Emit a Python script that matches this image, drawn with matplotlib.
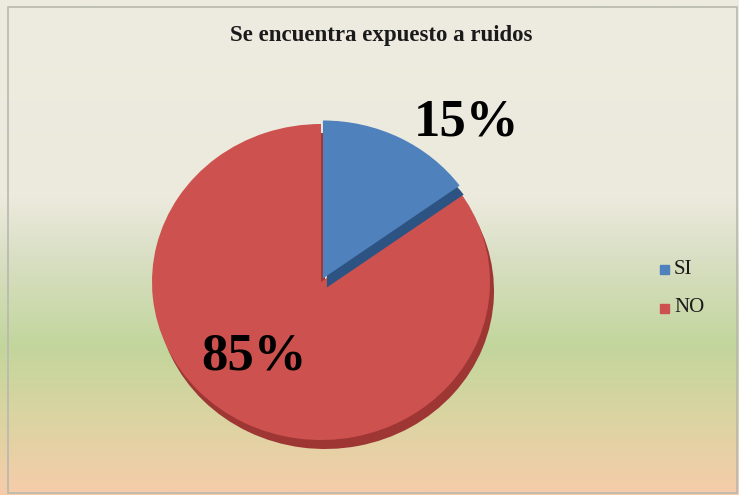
import matplotlib.pyplot as plt
import numpy as np
from matplotlib.colors import LinearSegmentedColormap
from matplotlib.patches import Rectangle

categories = ["SI", "NO"]
values = [15, 85]
labels = ["15%", "85%"]

W, H = 739, 495
face = ["#4F81BD", "#CD524F"]
side = ["#2D5382", "#9E3634"]
SERIF = "Liberation Serif"

fig = plt.figure(figsize=(W / 100, H / 100), dpi=100)

# background gradient
bg = fig.add_axes([0, 0, 1, 1])
bg.axis("off")
grad = LinearSegmentedColormap.from_list(
    "bg",
    [(0.0, "#EEEBE0"), (0.40, "#ECEADD"), (0.52, "#D9DFC4"),
     (0.70, "#C2D69C"), (0.85, "#DCD4A2"), (1.0, "#F6CCAA")],
)
bg.imshow(np.linspace(0, 1, 256)[:, None], aspect="auto", cmap=grad,
          extent=[0, W, H, 0])
bg.set_xlim(0, W)
bg.set_ylim(H, 0)
bg.add_patch(Rectangle((8, 7), W - 10, H - 9, fill=False, ec="#B8B8B0", lw=1.2))

# pie drawn as an ellipse: centre (321, 282), rx 169, ry 158 px
cx, cy, rx, ry = 321, 282, 169, 158
pax = fig.add_axes([(cx - rx) / W, 1 - (cy + ry) / H, 2 * rx / W, 2 * ry / H])
dx, dy = 4 / rx, -9 / ry
explode = [0.025, 0]
shadow, _ = pax.pie(values, colors=side, startangle=90, counterclock=False,
                    explode=explode, center=(dx, dy), radius=1,
                    wedgeprops=dict(lw=0))
top, _ = pax.pie(values, colors=face, startangle=90, counterclock=False,
                 explode=explode, radius=1, wedgeprops=dict(lw=0))
# red first, then blue on top so its side wall shows over the red face
for z, w in zip([1, 2, 3, 4], [shadow[1], top[1], shadow[0], top[0]]):
    w.set_zorder(z)
    w.set_clip_on(False)
pax.set_aspect("auto")
pax.set_xlim(-1, 1)
pax.set_ylim(-1, 1)
pax.axis("off")

# overlay for texts
ov = fig.add_axes([0, 0, 1, 1])
ov.axis("off")
ov.set_xlim(0, W)
ov.set_ylim(H, 0)

ov.text(381, 36, "Se encuentra expuesto a ruidos", ha="center", va="center",
        fontsize=16.5, fontweight="bold", family=SERIF, color="#1A1A1A")

ov.text(467, 122, labels[0], ha="center", va="center", fontsize=38,
        fontweight="bold", family=SERIF, color="#000000")
ov.text(254, 357, labels[1], ha="center", va="center", fontsize=38,
        fontweight="bold", family=SERIF, color="#000000")

# legend
for i, (cat, col) in enumerate(zip(categories, face)):
    y = 269 + i * 39
    ov.add_patch(Rectangle((660, y - 4.5), 9, 9, color=col))
    ov.text(674, y, cat, ha="left", va="center", fontsize=15,
            family=SERIF, color="#1A1A1A")

fig.savefig("out.png", dpi=100)
